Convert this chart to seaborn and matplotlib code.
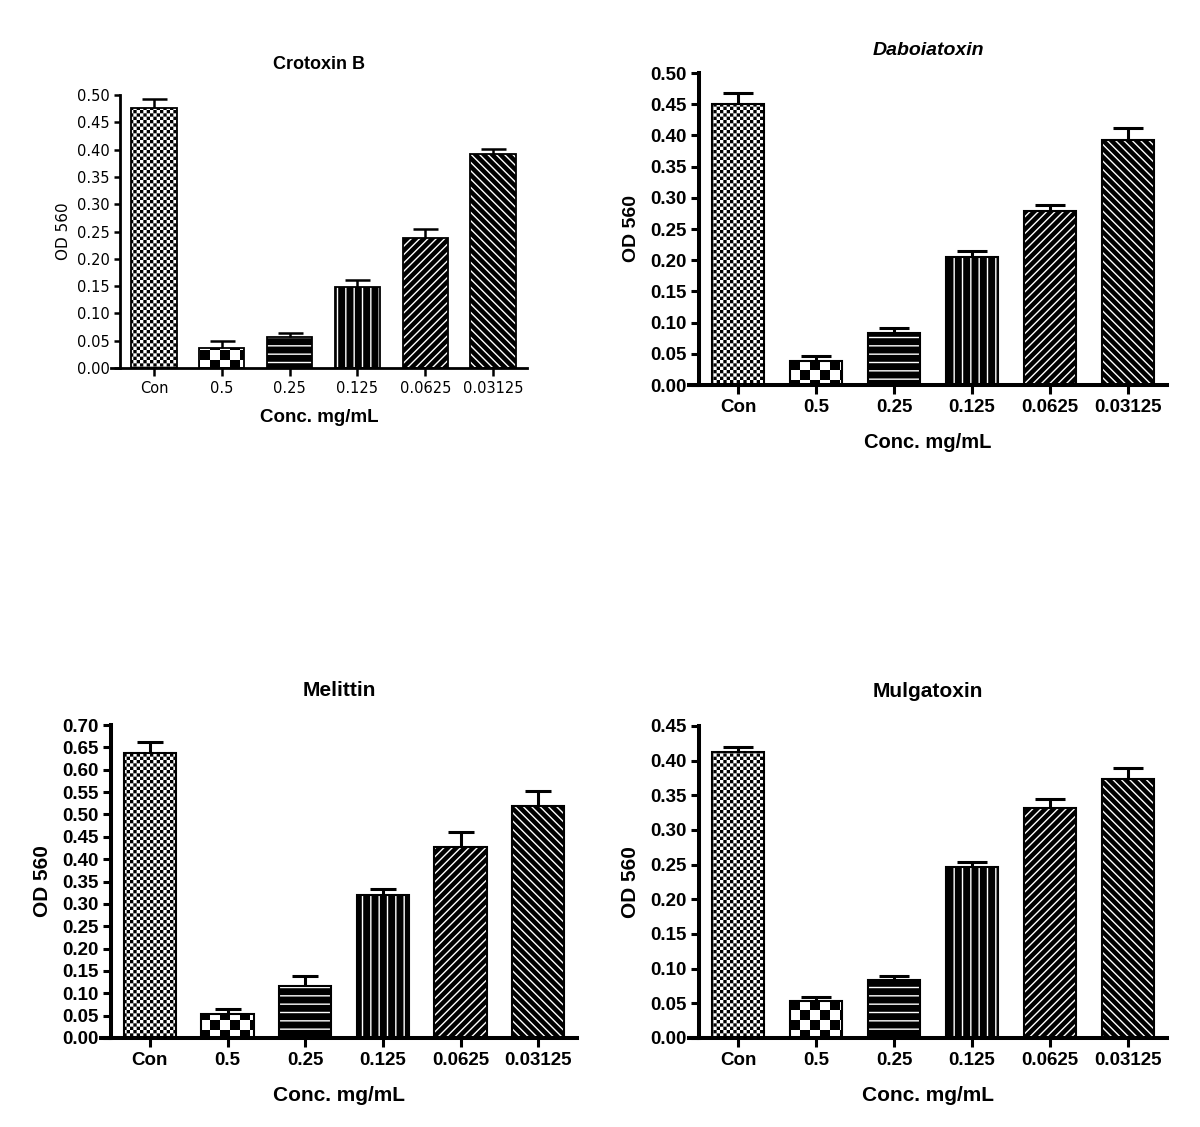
import numpy as np
import pandas as pd
import matplotlib
matplotlib.use("Agg")
import matplotlib.pyplot as plt
import matplotlib.hatch as mhatch
import matplotlib.colors as mcolors
from matplotlib.path import Path
from matplotlib.font_manager import FontProperties
import seaborn as sns

# ---------------- data ----------------
conc_labels = ["Con", "0.5", "0.25", "0.125", "0.0625", "0.03125"]

crotoxin_mean = [0.477, 0.036, 0.056, 0.149, 0.238, 0.392]
crotoxin_err = [0.015, 0.013, 0.008, 0.012, 0.017, 0.009]

daboia_mean = [0.451, 0.038, 0.084, 0.205, 0.279, 0.392]
daboia_err = [0.017, 0.008, 0.008, 0.010, 0.010, 0.020]

melittin_mean = [0.637, 0.054, 0.117, 0.320, 0.427, 0.518]
melittin_err = [0.024, 0.011, 0.021, 0.014, 0.033, 0.035]

mulga_mean = [0.412, 0.053, 0.083, 0.246, 0.332, 0.374]
mulga_err = [0.007, 0.006, 0.007, 0.008, 0.012, 0.016]

titles = ["Crotoxin B", "Daboiatoxin", "Melittin", "Mulgatoxin"]
y_maxes = [0.50, 0.50, 0.70, 0.45]
x_label = "Conc. mg/mL"
y_label = "OD 560"


# ---------------- custom checkerboard hatch ('O' repurposed) ----------------
class CheckerHatch(mhatch.HatchPatternBase):
    def __init__(self, hatch, density):
        self.cells = 2 * hatch.count("O")
        self.filled = True
        self.num_vertices = 5 * (self.cells * self.cells // 2)

    def set_vertices_and_codes(self, vertices, codes):
        n = self.cells
        s = 1.0 / n
        m = min(0.3 * s, 0.007)
        k = 0
        for i in range(n):
            for j in range(n):
                if (i + j) % 2 == 0:
                    x0, y0 = i * s + m, j * s + m
                    x1, y1 = (i + 1) * s - m, (j + 1) * s - m
                    vertices[k:k + 5] = [(x0, y0), (x1, y0), (x1, y1), (x0, y1), (x0, y0)]
                    codes[k:k + 5] = [Path.MOVETO, Path.LINETO, Path.LINETO,
                                      Path.LINETO, Path.CLOSEPOLY]
                    k += 5


mhatch._hatch_types = [t for t in mhatch._hatch_types
                       if t is not mhatch.LargeCircles] + [CheckerHatch]

# bar styles: (face, hatch colour, hatch)
bar_styles = [
    ("white", "black", "O" * 15),
    ("white", "black", "O" * 5),
    ("black", "white", "--"),
    ("black", "white", "||"),
    ("black", "white", "////"),
    ("black", "white", "\\\\\\\\"),
]

sns.set_theme(style="ticks")
plt.rcParams["font.family"] = ["Liberation Sans", "DejaVu Sans"]

W, H = 1200, 1127
fig = plt.figure(figsize=(W / 100, H / 100), dpi=100)
fig.patch.set_facecolor("white")

XPAD = 0.13


def rect(spine_x, right, top, bottom):
    ppu = (right - spine_x) / 6.0
    left = spine_x - XPAD * ppu
    return [left / W, (H - bottom) / H, (right - left) / W, (bottom - top) / H]


panels = [
    dict(mean=crotoxin_mean, err=crotoxin_err, rect=rect(120, 527, 95, 368),
         tick_font=dict(family="DejaVu Sans", size=10.5, weight="normal"),
         ylab_font=dict(family="DejaVu Sans", size=11, weight="normal"),
         title_font=dict(size=13, weight="bold", style="normal"), title_pad=19,
         xlab_font=dict(size=13.5, weight="bold"), xlab_pad=9, ylab_pad=4,
         spine_w=2.0, tick_w=1.8, ylen=4.5, xlen=6, err_w=1.8, cap=9, edge_w=1.3),
    dict(mean=daboia_mean, err=daboia_err, rect=rect(699, 1167, 73, 385),
         tick_font=dict(size=13.5, weight="bold"),
         ylab_font=dict(size=14, weight="bold"),
         title_font=dict(size=14, weight="bold", style="italic"), title_pad=13,
         xlab_font=dict(size=14.5, weight="bold"), xlab_pad=12, ylab_pad=7,
         spine_w=2.9, tick_w=2.2, ylen=6, xlen=6.5, err_w=2.2, cap=10.8, edge_w=1.5),
    dict(mean=melittin_mean, err=melittin_err, rect=rect(111, 577, 725, 1038),
         tick_font=dict(size=13.5, weight="bold"),
         ylab_font=dict(size=15, weight="bold"),
         title_font=dict(size=15, weight="bold", style="normal"), title_pad=21,
         xlab_font=dict(size=15, weight="bold"), xlab_pad=12, ylab_pad=7,
         spine_w=2.9, tick_w=2.2, ylen=6, xlen=6.5, err_w=2.2, cap=9.7, edge_w=1.5),
    dict(mean=mulga_mean, err=mulga_err, rect=rect(699, 1167, 726, 1038),
         tick_font=dict(size=13.5, weight="bold"),
         ylab_font=dict(size=15, weight="bold"),
         title_font=dict(size=15, weight="bold", style="normal"), title_pad=21,
         xlab_font=dict(size=15, weight="bold"), xlab_pad=12, ylab_pad=7,
         spine_w=2.9, tick_w=2.2, ylen=6, xlen=6.5, err_w=2.2, cap=10.8, edge_w=1.5),
]


def set_hatch_color(p, c):
    if hasattr(p, "set_hatchcolor"):
        p.set_hatchcolor(c)
    else:
        p._hatch_color = mcolors.to_rgba(c)


for idx, cfg in enumerate(panels):
    ax = fig.add_axes(cfg["rect"])
    df = pd.DataFrame({"conc": conc_labels, "od": cfg["mean"]})
    sns.barplot(data=df, x="conc", y="od", ax=ax, errorbar=None, color="white",
                edgecolor="black", linewidth=cfg["edge_w"], width=0.67,
                saturation=1, order=conc_labels)
    for p, (face, hcol, hatch) in zip(ax.patches, bar_styles):
        p.set_facecolor(face)
        p.set_edgecolor("black")
        p.set_hatch(hatch)
        set_hatch_color(p, hcol)

    means = np.array(cfg["mean"])
    errs = np.array(cfg["err"])
    eb = ax.errorbar(np.arange(len(means)), means, yerr=[np.zeros_like(errs), errs],
                     fmt="none", ecolor="black", elinewidth=cfg["err_w"],
                     capsize=cfg["cap"], capthick=cfg["err_w"], zorder=5)
    for cl in eb[1]:
        if np.allclose(cl.get_ydata(), means):
            cl.set_visible(False)

    # spines first (repositioning a spine resets the ticks)
    sns.despine(ax=ax)
    ax.spines["left"].set_position(("data", -0.5))
    ax.spines["left"].set_linewidth(cfg["spine_w"])
    ax.spines["bottom"].set_linewidth(cfg["spine_w"])
    ax.spines["left"].set_color("black")
    ax.spines["bottom"].set_color("black")

    ymax = y_maxes[idx]
    ax.set_xlim(-0.5 - XPAD, 5.5)
    ax.set_ylim(0, ymax)
    yt = np.round(np.arange(0, ymax + 1e-9, 0.05), 2)
    fp = FontProperties(**cfg["tick_font"])
    ax.set_yticks(yt)
    ax.set_yticklabels([f"{v:.2f}" for v in yt], fontproperties=fp, color="black")
    ax.set_xticks(range(6))
    ax.set_xticklabels(conc_labels, fontproperties=fp, color="black")

    ax.tick_params(axis="y", length=cfg["ylen"], width=cfg["tick_w"], pad=3,
                   color="black", direction="out")
    ax.tick_params(axis="x", length=cfg["xlen"], width=cfg["tick_w"], pad=3.5,
                   color="black", direction="out")
    ax.set_facecolor("white")

    ax.set_xlabel(x_label, labelpad=cfg["xlab_pad"], color="black", **cfg["xlab_font"])
    ax.set_ylabel(y_label, labelpad=cfg["ylab_pad"], color="black", **cfg["ylab_font"])
    ax.set_title(titles[idx], pad=cfg["title_pad"], color="black", **cfg["title_font"])

fig.savefig("out.png", dpi=100, facecolor="white")
